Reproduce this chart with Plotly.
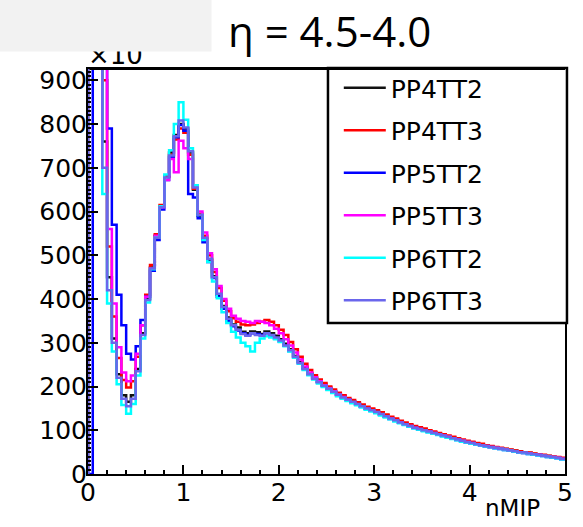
import numpy as np
import plotly.graph_objects as go

# bin edges of the nMIP histograms (100 bins, 0..5)
bin_edges = np.round(np.linspace(0.0, 5.0, 101), 3)

series_names = ["PP4TT2", "PP4TT3", "PP5TT2", "PP5TT3", "PP6TT2", "PP6TT3"]
series_colors = ["#111111", "#ff0000", "#0000ff", "#ff00ff", "#00ffff", "#6a66ec"]

pp4tt2 = [4500, 2800, 1500, 760, 450, 310, 228, 180, 165, 180,
          240, 322, 400, 472, 545, 612, 680, 735, 775, 800,
          790, 735, 650, 590, 538, 490, 452, 410, 384, 358,
          342, 335, 325, 322, 326, 324, 320, 326, 322, 316,
          308, 298, 285, 270, 256, 243, 230, 220, 211, 204,
          197, 190, 183, 177, 171, 166, 161, 156, 151, 147,
          143, 138, 133, 128, 124, 119, 115, 111, 107, 104,
          101, 98, 95, 92, 89, 86, 83, 80, 77, 74,
          72, 69, 67, 65, 63, 61, 59, 57, 55, 53,
          51, 49, 48, 46, 44, 43, 41, 39, 38, 36]

pp4tt3 = [5000, 3200, 1800, 900, 520, 360, 265, 215, 198, 212,
          268, 340, 410, 478, 548, 615, 680, 730, 765, 790,
          780, 730, 652, 595, 545, 500, 462, 425, 396, 372,
          356, 348, 342, 340, 342, 345, 348, 352, 348, 340,
          330, 318, 302, 285, 268, 252, 238, 226, 216, 208,
          200, 193, 186, 180, 174, 169, 164, 159, 154, 150,
          146, 141, 136, 131, 127, 122, 118, 114, 110, 107,
          104, 100, 97, 94, 91, 88, 85, 82, 79, 76,
          74, 71, 69, 66, 64, 62, 60, 58, 56, 54,
          52, 50, 49, 47, 45, 44, 42, 40, 39, 37]

pp5tt2 = [0, 5000, 2500, 1300, 790, 570, 410, 340, 275, 262,
          292, 352, 405, 465, 535, 605, 672, 725, 770, 798,
          785, 640, 632, 585, 530, 485, 448, 405, 378, 350,
          338, 328, 322, 318, 322, 320, 318, 322, 316, 310,
          303, 293, 281, 267, 253, 240, 228, 218, 209, 201,
          194, 187, 180, 174, 169, 164, 159, 154, 149, 145,
          141, 136, 131, 126, 122, 117, 113, 109, 105, 102,
          99, 96, 93, 90, 87, 84, 81, 78, 75, 72,
          70, 67, 65, 63, 61, 59, 57, 55, 53, 51,
          49, 48, 46, 44, 43, 41, 39, 38, 36, 34]

pp5tt3 = [5200, 3400, 1900, 950, 560, 390, 290, 232, 212, 225,
          275, 340, 405, 470, 545, 610, 672, 720, 690, 762,
          745, 720, 660, 600, 552, 505, 468, 430, 400, 378,
          362, 355, 350, 348, 345, 350, 348, 345, 340, 332,
          322, 308, 294, 278, 262, 246, 232, 221, 212, 203,
          196, 189, 182, 176, 170, 164, 159, 154, 149, 145,
          141, 136, 132, 127, 122, 118, 114, 110, 106, 103,
          100, 97, 94, 91, 88, 85, 82, 79, 76, 73,
          71, 68, 66, 64, 62, 60, 58, 56, 54, 52,
          50, 48, 47, 45, 44, 42, 40, 39, 37, 35]

pp6tt2 = [4000, 2500, 1300, 640, 390, 280, 205, 158, 138, 160,
          225, 310, 392, 468, 540, 612, 685, 740, 800, 850,
          810, 745, 660, 592, 535, 485, 440, 402, 370, 345,
          325, 312, 300, 292, 280, 300, 310, 315, 312, 308,
          302, 292, 280, 266, 252, 238, 226, 216, 207, 199,
          192, 185, 178, 172, 167, 162, 157, 152, 147, 143,
          139, 134, 129, 125, 120, 116, 112, 108, 104, 101,
          98, 95, 92, 89, 86, 83, 80, 77, 74, 72,
          69, 67, 65, 63, 61, 59, 57, 55, 53, 51,
          49, 48, 46, 44, 43, 41, 39, 38, 36, 34]

pp6tt3 = [4200, 2600, 1400, 700, 420, 300, 220, 172, 155, 172,
          235, 318, 398, 470, 540, 610, 678, 728, 772, 808,
          792, 738, 655, 592, 540, 492, 450, 412, 382, 355,
          340, 330, 320, 316, 322, 318, 316, 322, 318, 312,
          305, 294, 283, 268, 254, 240, 228, 218, 210, 202,
          195, 188, 181, 175, 170, 165, 160, 155, 150, 146,
          142, 137, 132, 127, 123, 118, 114, 110, 106, 103,
          100, 97, 94, 91, 88, 85, 82, 79, 76, 73,
          71, 68, 66, 64, 62, 60, 58, 56, 54, 52,
          50, 49, 47, 45, 44, 42, 40, 39, 37, 35]

series_values = [pp4tt2, pp4tt3, pp5tt2, pp5tt3, pp6tt2, pp6tt3]

x_ticks = [0, 1, 2, 3, 4, 5]
y_ticks = [0, 100, 200, 300, 400, 500, 600, 700, 800, 900]
y_max = 926

W, H = 583, 527
ML, MR, MT, MB = 88, 10, 69, 53
PW, PH = W - ML - MR, H - MT - MB


def px_x(px):
    return (px - ML) / PW


def px_y(py):
    return (H - MB - py) / PH


FONT = "DejaVu Sans"

fig = go.Figure()
for i, (name, color, vals) in enumerate(zip(series_names, series_colors, series_values)):
    xs = [bin_edges[0]] + list(bin_edges[:-1]) + [bin_edges[-1]]
    ys = [0] + list(vals) + [vals[-1]]
    fig.add_trace(go.Scatter(
        x=xs, y=ys, mode="lines", name=name, legendgroup=name,
        line=dict(color=color, width=2.5, shape="hv"),
        hoverinfo="skip",
    ))

axis_common = dict(
    showgrid=False, zeroline=False, showline=True, mirror=True,
    linecolor="black", linewidth=2, ticks="inside", tickcolor="black",
    tickwidth=2, tickfont=dict(family=FONT, size=25, color="black"),
)

fig.update_xaxes(range=[0, 5], tickvals=x_ticks, ticklen=9, ticklabelstandoff=-5,
                 minor=dict(dtick=0.2, ticks="inside", ticklen=4, tickwidth=2, tickcolor="black"),
                 **axis_common)
fig.update_yaxes(range=[0, y_max], tickvals=y_ticks, ticklen=10, ticklabelstandoff=-6,
                 minor=dict(dtick=10, ticks="inside", ticklen=3, tickwidth=1.5, tickcolor="black"),
                 **axis_common)

# white slide patch behind the title (stops just above the frame)
fig.add_shape(type="rect", xref="paper", yref="paper",
              x0=px_x(209), x1=px_x(530), y0=px_y(66), y1=px_y(0),
              line=dict(width=0), fillcolor="white", layer="above")
# legend frame
fig.add_shape(type="rect", xref="paper", yref="paper",
              x0=px_x(332), x1=px_x(575), y0=px_y(323), y1=px_y(68),
              line=dict(color="black", width=2.5), fillcolor="white", layer="above")

P = dict(xref="paper", yref="paper", showarrow=False)
annotations = [
    dict(text="nMIP", x=px_x(550), y=px_y(508), xanchor="right", yanchor="middle",
         font=dict(family=FONT, size=23, color="black"), **P),
    dict(text="×10", x=px_x(86), y=px_y(55), xanchor="left", yanchor="middle",
         font=dict(family=FONT, size=26, color="black"), **P),
    # grey slide patch covering top-left
    dict(text=" ", x=px_x(-2), y=px_y(-2), xanchor="left", yanchor="top",
         width=211, height=52, bgcolor="#f2f2f2", borderpad=0, **P),
    dict(text="η = 4.5-4.0", x=px_x(334), y=px_y(31), xanchor="center", yanchor="middle",
         font=dict(family="Open Sans", size=42, color="black"), **P),
    # frame top edge, redrawn on the annotation layer
    dict(text="", xref="x", yref="y", axref="x", ayref="y",
         x=x_ticks[-1], y=y_max, ax=x_ticks[0], ay=y_max,
         showarrow=True, arrowhead=0, arrowwidth=2, arrowcolor="black",
         standoff=0, startstandoff=0),
]

fig.update_layout(
    width=W, height=H, margin=dict(l=ML, r=MR, t=MT, b=MB),
    paper_bgcolor="white", plot_bgcolor="white",
    showlegend=True,
    legend=dict(x=px_x(343), y=px_y(65), xanchor="left", yanchor="top",
                bgcolor="rgba(0,0,0,0)", borderwidth=0, itemwidth=42,
                tracegroupgap=7, traceorder="grouped",
                font=dict(family=FONT, size=25, color="black")),
    annotations=annotations,
)

fig.write_html("out.html")
